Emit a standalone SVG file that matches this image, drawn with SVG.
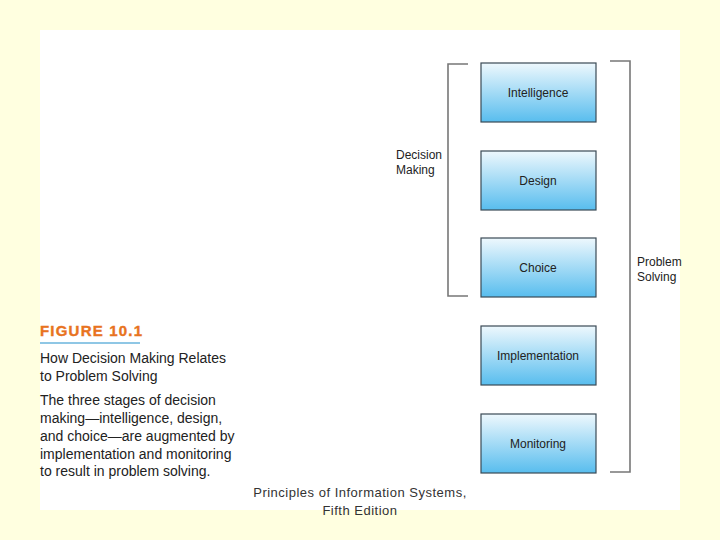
<svg xmlns="http://www.w3.org/2000/svg" width="720" height="540" viewBox="0 0 720 540">
<style>
.box{stroke:#3a4a55;stroke-width:1.2}
.lbl{font-family:"Liberation Sans",Arial,sans-serif;font-size:12px;fill:#222;text-anchor:middle}
.side{font-family:"Liberation Sans",Arial,sans-serif;font-size:12px;fill:#222}
.brk{fill:none;stroke:#777;stroke-width:1.6}
.cap{font-family:"Liberation Sans",Arial,sans-serif;font-size:14px;fill:#222}
.foot{font-family:"Liberation Sans",Arial,sans-serif;font-size:13px;letter-spacing:0.5px;fill:#333;text-anchor:middle}
</style>
<defs>
<linearGradient id="g" x1="0" y1="0" x2="0" y2="1">
<stop offset="0" stop-color="#eef8fd"/>
<stop offset="1" stop-color="#58bdee"/>
</linearGradient>
</defs>
<rect width="720" height="540" fill="#ffffe0"/>
<rect x="40" y="30" width="640" height="480" fill="#ffffff"/>
<g id="n-intelligence"><rect class="box" x="481" y="63" width="115" height="59" fill="url(#g)"/><text class="lbl" x="538" y="97">Intelligence</text></g>
<g id="n-design"><rect class="box" x="481" y="151" width="115" height="59" fill="url(#g)"/><text class="lbl" x="538" y="185">Design</text></g>
<g id="n-choice"><rect class="box" x="481" y="238" width="115" height="59" fill="url(#g)"/><text class="lbl" x="538" y="272">Choice</text></g>
<g id="n-implementation"><rect class="box" x="481" y="326" width="115" height="59" fill="url(#g)"/><text class="lbl" x="538" y="360">Implementation</text></g>
<g id="n-monitoring"><rect class="box" x="481" y="414" width="115" height="59" fill="url(#g)"/><text class="lbl" x="538" y="448">Monitoring</text></g>
<g id="connectors">
<path class="brk" d="M468,64 H448 V296 H468"/>
<path class="brk" d="M610,61 H630 V472 H610"/>
</g>
<g id="n-decision-making"><text class="side" x="396" y="159">Decision</text><text class="side" x="396" y="174">Making</text></g>
<g id="n-problem-solving"><text class="side" x="637" y="266">Problem</text><text class="side" x="637" y="281">Solving</text></g>
<g id="caption">
<text x="40" y="336" font-family="'Liberation Sans',Arial,sans-serif" font-size="15" font-weight="900" fill="#e8731f" letter-spacing="1.2" stroke="#e8731f" stroke-width="0.4">FIGURE 10.1</text>
<line x1="40" y1="343" x2="140" y2="343" stroke="#6ab4dc" stroke-width="1.5"/>
<text class="cap" x="40" y="363">How Decision Making Relates</text>
<text class="cap" x="40" y="381">to Problem Solving</text>
<text class="cap" x="40" y="405">The three stages of decision</text>
<text class="cap" x="40" y="423">making—intelligence, design,</text>
<text class="cap" x="40" y="441">and choice—are augmented by</text>
<text class="cap" x="40" y="459">implementation and monitoring</text>
<text class="cap" x="40" y="476">to result in problem solving.</text>
</g>
<g id="footer">
<text class="foot" x="360" y="497">Principles of Information Systems,</text>
<text class="foot" x="360" y="515">Fifth Edition</text>
</g>
</svg>
